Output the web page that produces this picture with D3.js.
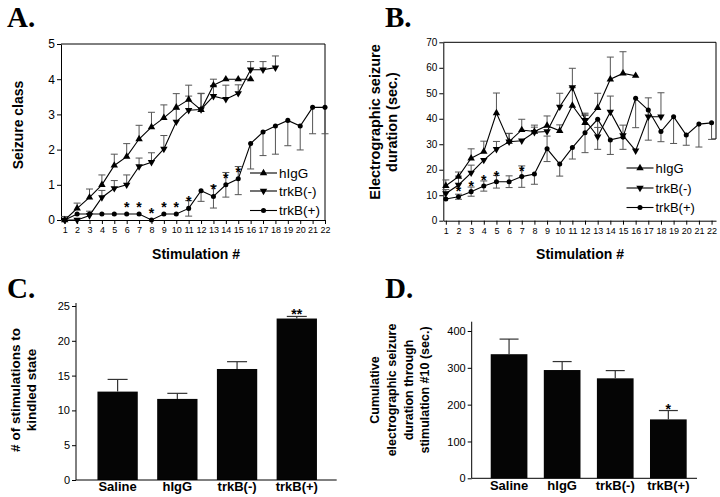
<!DOCTYPE html>
<html><head><meta charset="utf-8">
<script src="https://cdn.jsdelivr.net/npm/d3@7"></script>
<style>body{margin:0;background:#fff}svg{display:block}</style>
</head><body>
<svg id="c" width="720" height="497" style="font-family:'Liberation Sans',Arial,sans-serif"></svg>
<script>
// ---------- DATA ----------
const stimTicks = [1,2,3,4,5,6,7,8,9,10,11,12,13,14,15,16,17,18,19,20,21,22];
const seriesNames = ["hIgG","trkB(-)","trkB(+)"];

// Panel A: seizure class
const A_hIgG      = [0,0.33,0.64,1.0,1.55,1.8,2.3,2.64,2.9,3.2,3.42,3.13,3.83,4.0,4.0,4.0];
const A_hIgG_up   = [0.1,0.15,0.24,0.28,0.32,0.37,0.39,0.42,0.37,0.39,0.41,0.47,0.17,0,0,0];
const A_trkBm     = [0,0,0.13,0.64,0.9,1.0,1.52,1.64,2.02,2.79,3.12,3.14,3.52,3.43,3.6,4.27,4.27,4.33];
const A_trkBm_up  = [0,0,0.12,0.2,0.22,0.28,0.24,0.27,0.38,0.35,0.4,0.45,0.3,0.4,0.24,0.23,0.23,0.33];
const A_trkBp     = [0,0.17,0.17,0.17,0.17,0.17,0.17,0,0.17,0.17,0.33,0.83,0.67,1.0,1.17,2.17,2.5,2.67,2.83,2.67,3.2,3.2];
const A_trkBp_up  = [0,0,0,0,0,0,0,0,0,0,0.22,0,0.3,0.35,0.35,0,0,0,0,0,0,0];
const A_trkBp_dn  = [0,0,0,0,0,0,0,0,0,0,0.22,0.3,0.33,0.35,0.45,0.72,0.67,0.8,0.72,0.68,0.75,0.75];
const A_stars     = [6,7,8,9,10,11,13,14,15];
const A_yTicks    = [0,1,2,3,4,5];

// Panel B: electrographic seizure duration (sec.)
const B_hIgG      = [13.7,17.3,24.5,27.1,42.2,31,35.6,35,37.3,35.3,45.2,38.4,44.3,55.5,57.8,56.9];
const B_hIgG_up   = [2.3,1.8,3.7,4.1,7.9,3.2,4.2,2.5,3.8,2.3,7,3.4,5.7,8.7,8.5,0];
const B_trkBm     = [10.7,14.0,18.8,23.8,28.1,31,31.4,34.7,35,44.7,52.3,39.5,33,42.7,33.5,27.5,40.8,40.8];
const B_trkBm_up  = [1.5,3.5,3,0,3,3.3,0,2,0,5.3,7.5,1.8,3.6,6.2,4,0,7.4,9.4];
const B_trkBp     = [8.5,9.4,11.4,13.6,15.3,15.3,17.3,18.3,28.2,22.2,28.7,34.5,39.8,31.7,32.8,48,43.4,35,40.8,33.6,37.9,38.4];
const B_trkBp_up  = [0,1,1.8,2,2.5,2.3,4.2,0,5,0,0,7.7,0,0,0,0,0,0,0,0,0,0];
const B_trkBp_dn  = [0,1,1.8,2,2.5,2.3,4.2,4,5,4.7,4.5,7.8,11.8,5.7,4.8,11.5,11.8,4,10.5,4,9,6.5];
const B_stars     = [2,3,4,5,7];
const B_yTicks    = [0,10,20,30,40,50,60,70];

// Panel C: # of stimulations to kindled state
const groups      = ["Saline","hIgG","trkB(-)","trkB(+)"];
const C_values    = [12.7,11.65,15.95,23.2];
const C_err       = [1.75,0.8,1.05,0.3];
const C_stars     = ["","","","**"];
const C_yTicks    = [0,5,10,15,20,25];

// Panel D: cumulative electrographic seizure duration through stimulation #10 (sec.)
const D_values    = [337,294,271.5,160];
const D_err       = [41,23,21,24];
const D_stars     = ["","","","*"];
const D_yTicks    = [0,100,200,300,400];

// ---------- DRAW ----------
const svg = d3.select("#c");
const INK = "#000", ERR = "#555";
const SANS = "'Liberation Sans',Arial,sans-serif";

function sym(kind){
  if(kind==="circle") return d3.symbol(d3.symbolCircle,20)();
  return d3.symbol(d3.symbolTriangle,24)();
}
function marker(g,kind,x,y){
  g.append("path").attr("d",sym(kind))
   .attr("transform",`translate(${x},${y})`+(kind==="down"?" rotate(180)":""))
   .attr("fill",INK);
}
function styleAxis(sel,fs){
  sel.select(".domain").attr("stroke",INK).attr("stroke-width",1);
  sel.selectAll(".tick line").attr("stroke",INK);
  sel.selectAll(".tick text").attr("fill",INK).style("font-size",fs+"px").style("font-family",SANS);
}
function panelLetter(t,x,y){
  svg.append("text").text(t).attr("x",x).attr("y",y)
    .style("font-family","'Liberation Serif','Times New Roman',serif")
    .style("font-weight","bold").style("font-size","29px").attr("fill",INK);
}
function rotTitle(lines,cx0,dx,cy,fs){
  lines.forEach((l,i)=>{
    svg.append("text").text(l)
      .attr("transform",`translate(${cx0+i*dx},${cy}) rotate(-90)`)
      .attr("text-anchor","middle").attr("dy","0.35em")
      .style("font-weight","bold").style("font-size",fs+"px").attr("fill",INK);
  });
}

function linePanel(o){
  const g = svg.append("g");
  const x = d3.scaleLinear().domain(o.xDomain).range(o.xRange);
  const y = d3.scaleLinear().domain(o.yDomain).range(o.yRange);
  g.append("line").attr("x1",o.xRange[0]).attr("x2",o.xRange[1])
    .attr("y1",o.yRange[1]).attr("y2",o.yRange[1]).attr("stroke",INK);
  g.append("line").attr("x1",o.xRange[1]).attr("x2",o.xRange[1])
    .attr("y1",o.yRange[1]).attr("y2",o.rightEnd).attr("stroke",INK);
  if(o.rightTick) g.append("line").attr("x1",o.xRange[1]-4).attr("x2",o.xRange[1])
    .attr("y1",o.rightEnd).attr("y2",o.rightEnd).attr("stroke",INK);
  const ya = g.append("g").attr("transform",`translate(${o.xRange[0]},0)`)
    .call(d3.axisLeft(y).tickValues(o.yTicks).tickFormat(d3.format("d")).tickSize(4).tickSizeOuter(0).tickPadding(2));
  styleAxis(ya,o.yFont);
  const xa = g.append("g").attr("transform",`translate(0,${o.yRange[0]})`)
    .call(d3.axisBottom(x).tickValues(stimTicks).tickFormat(d3.format("d")).tickSize(4).tickSizeOuter(0).tickPadding(3));
  styleAxis(xa,9);

  o.series.forEach(s=>{
    s.values.forEach((v,i)=>{
      const cx = x(i+1);
      const draw=(e)=>{
        if(!e) return;
        g.append("line").attr("x1",cx).attr("x2",cx).attr("y1",y(v)).attr("y2",y(v+e))
         .attr("stroke",ERR).attr("stroke-width",1);
        g.append("line").attr("x1",cx-3.5).attr("x2",cx+3.5).attr("y1",y(v+e)).attr("y2",y(v+e))
         .attr("stroke",ERR).attr("stroke-width",1);
      };
      if(s.up) draw(s.up[i]);
      if(s.dn) draw(-s.dn[i]);
    });
  });
  o.series.forEach(s=>{
    g.append("path").datum(s.values)
      .attr("d",d3.line().x((d,i)=>x(i+1)).y(d=>y(d)))
      .attr("fill","none").attr("stroke",INK).attr("stroke-width",1.1);
    s.values.forEach((v,i)=>marker(g,s.kind,x(i+1),y(v)));
  });
  const sp = o.series[2];
  o.stars.forEach(k=>{
    g.append("text").text("*").attr("x",x(k)).attr("y",y(sp.values[k-1])-o.starGap)
      .attr("text-anchor","middle").style("font-size","14px").style("font-weight","bold").attr("fill",INK);
  });
  o.series.forEach((s,i)=>{
    const ly = o.legY[i];
    g.append("line").attr("x1",o.legX).attr("x2",o.legX+27).attr("y1",ly).attr("y2",ly)
      .attr("stroke",INK).attr("stroke-width",1.1);
    marker(g,s.kind,o.legX+13.5,ly);
    g.append("text").text(seriesNames[i]).attr("x",o.legX+29).attr("y",ly).attr("dy","0.36em")
      .style("font-size",o.legFont+"px").attr("fill",INK);
  });
  svg.append("text").text("Stimulation #").attr("x",o.xTitleX).attr("y",259)
    .attr("text-anchor","middle").style("font-weight","bold").style("font-size","14px").attr("fill",INK);
}

function barPanel(o){
  const g = svg.append("g");
  const x = d3.scaleBand().domain(groups).range(o.bandRange).paddingInner(o.pi).paddingOuter(o.po);
  const y = d3.scaleLinear().domain(o.yDomain).range(o.yRange);
  g.selectAll("rect.bar").data(o.values).enter().append("rect")
    .attr("x",(d,i)=>x(groups[i])).attr("width",x.bandwidth())
    .attr("y",d=>y(d)).attr("height",d=>y(0)-y(d)).attr("fill","#050505");
  o.values.forEach((v,i)=>{
    const cx = x(groups[i])+x.bandwidth()/2;
    const top = y(v+o.err[i]);
    g.append("line").attr("x1",cx).attr("x2",cx).attr("y1",y(v)).attr("y2",top).attr("stroke","#333").attr("stroke-width",1.2);
    g.append("line").attr("x1",cx-o.cap).attr("x2",cx+o.cap).attr("y1",top).attr("y2",top).attr("stroke","#333").attr("stroke-width",1.2);
    if(o.stars[i]) g.append("text").text(o.stars[i]).attr("x",cx).attr("y",top-o.starGap)
      .attr("text-anchor","middle").style("font-size","14px").style("font-weight","bold").attr("fill",INK);
  });
  const ya = g.append("g").attr("transform",`translate(${o.axisX},0)`)
    .call(d3.axisLeft(y).tickValues(o.yTicks).tickFormat(d3.format("d")).tickSize(4).tickSizeOuter(0).tickPadding(2));
  styleAxis(ya,11);
  ya.select(".domain").attr("d",`M0,${y(0)}V${o.axisTop}`);
  g.append("line").attr("x1",o.axisX).attr("x2",o.axisRight).attr("y1",y(0)).attr("y2",y(0)).attr("stroke",INK);
  groups.forEach(c=>{
    g.append("text").text(c).attr("x",x(c)+x.bandwidth()/2).attr("y",o.labelY)
      .attr("text-anchor","middle").style("font-weight","bold").style("font-size","13px").attr("fill",INK);
  });
}

linePanel({
  xDomain:[0.7,22], xRange:[61,325], yDomain:[0,5], yRange:[220,44], rightEnd:220,
  yTicks:A_yTicks, yFont:12, stars:A_stars, starGap:2,
  series:[
    {values:A_hIgG, up:A_hIgG_up, kind:"up"},
    {values:A_trkBm, up:A_trkBm_up, kind:"down"},
    {values:A_trkBp, up:A_trkBp_up, dn:A_trkBp_dn, kind:"circle"}],
  legX:250, legY:[173,191,210.5], legFont:13.5, xTitleX:196
});
linePanel({
  xDomain:[0.8,22.35], xRange:[443.3,716], yDomain:[0,70], yRange:[220.7,42.3], rightEnd:139, rightTick:true,
  yTicks:B_yTicks, yFont:10, stars:B_stars, starGap:1,
  series:[
    {values:B_hIgG, up:B_hIgG_up, kind:"up"},
    {values:B_trkBm, up:B_trkBm_up, kind:"down"},
    {values:B_trkBp, up:B_trkBp_up, dn:B_trkBp_dn, kind:"circle"}],
  legX:626.5, legY:[168,188,207.5], legFont:13, xTitleX:580
});
barPanel({
  values:C_values, err:C_err, stars:C_stars, yTicks:C_yTicks,
  yDomain:[0,25], yRange:[480,306], bandRange:[87.9,326.5], pi:0.325, po:0.16,
  axisX:76, axisTop:303, axisRight:336.7, cap:10, starGap:-3, labelY:491
});
barPanel({
  values:D_values, err:D_err, stars:D_stars, yTicks:D_yTicks,
  yDomain:[0,400], yRange:[478.3,331], bandRange:[480.1,697.3], pi:0.309, po:0.2,
  axisX:471.7, axisTop:321.7, axisRight:697, cap:9.5, starGap:-3, labelY:490
});

rotTitle(["Seizure class"],18.5,0,125,14);
rotTitle(["Electrographic seizure","duration (sec.)"],375,16.7,122,14.5);
rotTitle(["# of stimulations to","kindled state"],15,16.7,390,13.5);
rotTitle(["Cumulative","electrographic seizure","duration through","stimulation #10 (sec.)"],375,16.7,390,12.5);

panelLetter("A.",7,27);
panelLetter("B.",385,27);
panelLetter("C.",7,298);
panelLetter("D.",385,298);
</script>
</body></html>
